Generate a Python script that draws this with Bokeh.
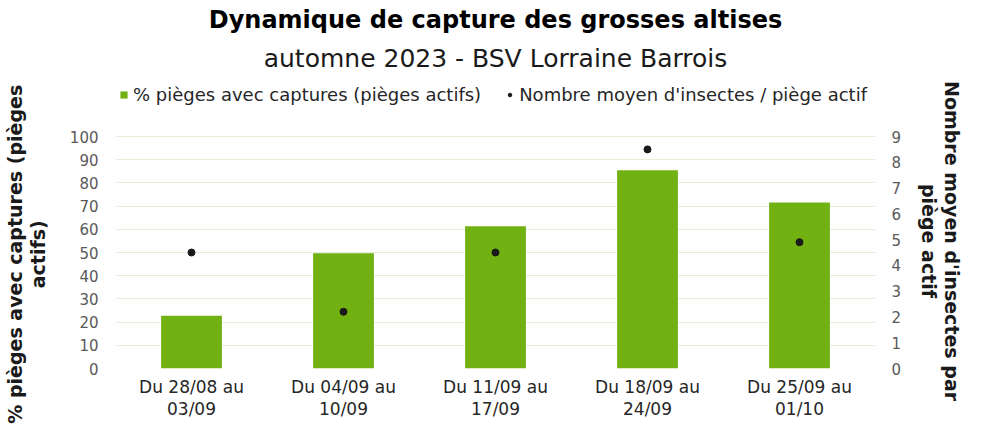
from bokeh.plotting import figure
from bokeh.models import (Range1d, LinearAxis, Legend, LegendItem, Title,
                          FixedTicker, FactorRange)
from bokeh.embed import file_html
from bokeh.resources import INLINE

# ---- data ----
periods = ["Du 28/08 au\n03/09", "Du 04/09 au\n10/09", "Du 11/09 au\n17/09",
           "Du 18/09 au\n24/09", "Du 25/09 au\n01/10"]
pct_traps = [22.7, 49.7, 61.3, 85.4, 71.5]
mean_insects = [4.5, 2.2, 4.5, 8.5, 4.9]
left_ticks = [0, 10, 20, 30, 40, 50, 60, 70, 80, 90, 100]
right_ticks = [0, 1, 2, 3, 4, 5, 6, 7, 8, 9]

title_text = "Dynamique de capture des grosses altises"
subtitle_text = "automne 2023 - BSV Lorraine Barrois"
left_label_lines = ["% pièges avec captures (pièges", "actifs)"]
right_label_lines = ["Nombre moyen d'insectes par", "piège actif"]
series1 = "% pièges avec captures (pièges actifs)"
series2 = "Nombre moyen d'insectes / piège actif"

FONT = "DejaVu Sans"
GREEN = "#71b112"
GRID = "#e2efd9"
TICK = "#595959"

# layout constants (pixels, figure coordinates)
TOP_BORDER = 80
BOTTOM_BORDER = 63
FIG_H = 431
FRAME_H = FIG_H - TOP_BORDER - BOTTOM_BORDER   # frame includes the legend band
BAND_H = 56                                    # legend band above the 100 line
CHART_H = FRAME_H - BAND_H                     # height of the 0..100 part
Y_TOP = 100 * FRAME_H / CHART_H
PAD_L = "\u00a0" * 9    # moves the centred left title onto the chart part
PAD_R = "\u00a0" * 5    # same for the right title

p = figure(width=966, height=FIG_H,
           x_range=FactorRange(*periods),
           y_range=Range1d(0, Y_TOP),
           output_backend="svg", toolbar_location=None,
           min_border_left=112, min_border_right=88,
           min_border_top=TOP_BORDER, min_border_bottom=BOTTOM_BORDER)
p.extra_y_ranges = {"n": Range1d(0, 9 * Y_TOP / 100)}
p.outline_line_color = None

bars = p.vbar(x=periods, top=pct_traps, width=0.4, fill_color=GREEN,
              line_color=None)
dots = p.scatter(x=periods, y=mean_insects, y_range_name="n", size=7,
                 fill_color="#1a1a1a", line_color="#1a1a1a")

# left axis (reads bottom-to-top: trailing padding shifts text down)
yl = p.yaxis[0]
yl.ticker = FixedTicker(ticks=left_ticks)
yl.axis_label = "\n".join(s + PAD_L for s in left_label_lines)

# right axis (reads top-to-bottom: leading padding shifts text down)
yr = LinearAxis(y_range_name="n", ticker=FixedTicker(ticks=right_ticks),
                axis_label="\n".join(PAD_R + s for s in right_label_lines))
p.add_layout(yr, "right")

for ax in [yl, yr]:
    ax.axis_line_color = None
    ax.major_tick_line_color = None
    ax.minor_tick_line_color = None
    ax.major_tick_out = 0
    ax.major_tick_in = 0
    ax.minor_tick_out = 0
    ax.minor_tick_in = 0
    ax.major_label_text_font = FONT
    ax.major_label_text_font_size = "15px"
    ax.major_label_text_color = TICK
    ax.axis_label_text_font = FONT
    ax.axis_label_text_font_size = "19px"
    ax.axis_label_text_font_style = "bold"
    ax.axis_label_text_color = "#1a1a1a"
    ax.axis_label_text_line_height = 1.05
yl.major_label_standoff = 17
yl.axis_label_standoff = 18
yr.major_label_standoff = 16
yr.axis_label_standoff = 14

xa = p.xaxis[0]
xa.axis_line_color = None
xa.major_tick_line_color = None
xa.minor_tick_line_color = None
xa.major_tick_out = 0
xa.major_tick_in = 0
xa.minor_tick_out = 0
xa.minor_tick_in = 0
xa.major_label_text_font = FONT
xa.major_label_text_font_size = "17px"
xa.major_label_text_color = "#262626"
xa.major_label_text_line_height = 1.1
xa.major_label_standoff = 8

p.xgrid.grid_line_color = None
p.ygrid.ticker = FixedTicker(ticks=left_ticks)
p.ygrid.grid_line_color = GRID
p.ygrid.grid_line_width = 1

legend = Legend(items=[LegendItem(label=series1, renderers=[bars]),
                       LegendItem(label=series2, renderers=[dots])],
                location="top_left",
                orientation="horizontal",
                glyph_width=9, glyph_height=9, label_height=20,
                label_standoff=5, padding=0, margin=4, spacing=24,
                border_line_color=None, background_fill_alpha=0,
                label_text_font=FONT, label_text_font_size="18px",
                label_text_color="#262626")
p.add_layout(legend, "center")

p.add_layout(Title(text=subtitle_text, align="center", offset=-10, standoff=16,
                   text_font=FONT, text_font_size="25px",
                   text_font_style="normal", text_color="#1a1a1a"), "above")
p.add_layout(Title(text=title_text, align="center", offset=-10, standoff=0,
                   text_font=FONT, text_font_size="24px",
                   text_font_style="bold", text_color="#000000"), "above")

open("out.html", "w").write(file_html(p, INLINE))
